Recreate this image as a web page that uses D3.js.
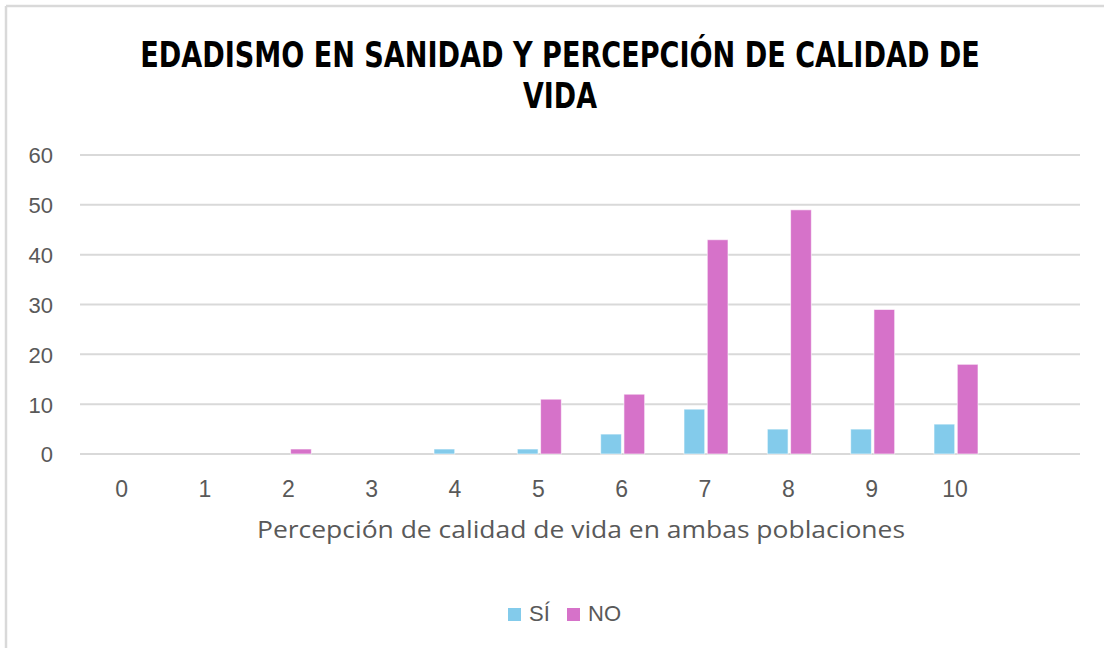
<!DOCTYPE html>
<html>
<head>
<meta charset="utf-8">
<script src="https://cdn.jsdelivr.net/npm/d3@7"></script>
<style>
  html, body { margin: 0; padding: 0; background: #fff; }
  svg { display: block; }
</style>
</head>
<body>
<svg id="chart" width="1104" height="648"></svg>
<script>
// Quality-of-life score categories (last slot is an empty spacer category)
const categories = ["0", "1", "2", "3", "4", "5", "6", "7", "8", "9", "10", ""];
const seriesNames = ["SÍ", "NO"];
const valuesSi = [0, 0, 0, 0, 1, 1, 4, 9, 5, 5, 6, null];
const valuesNo = [0, 0, 1, 0, 0, 11, 12, 43, 49, 29, 18, null];
const yTicks = [0, 10, 20, 30, 40, 50, 60];
const titleLines = ["EDADISMO EN SANIDAD Y PERCEPCIÓN DE CALIDAD DE", "VIDA"];
const xAxisTitle = "Percepción de calidad de vida en ambas poblaciones";

const colors = { "SÍ": "#83cbeb", "NO": "#d672c9" };

const svg = d3.select("#chart");
const W = 1104, H = 648;

// chart frame
svg.append("rect").attr("x", 0).attr("y", 0).attr("width", W).attr("height", H).attr("fill", "#fff");
svg.append("line").attr("x1", 6).attr("x2", W).attr("y1", 6).attr("y2", 6)
  .attr("stroke", "#d9d9d9").attr("stroke-width", 2.5);
svg.append("line").attr("x1", 6).attr("x2", 6).attr("y1", 6).attr("y2", H)
  .attr("stroke", "#d9d9d9").attr("stroke-width", 2.5);

const plot = { left: 80, right: 1080, top: 155, bottom: 454 };

const x = d3.scaleBand().domain(categories).range([plot.left, plot.right]).padding(0);
const y = d3.scaleLinear().domain([0, 60]).range([plot.bottom, plot.top]);
const inner = d3.scaleBand().domain(seriesNames).range([-22, 22]).paddingInner(0.11);

// gridlines
svg.append("g").selectAll("line").data(yTicks).join("line")
  .attr("x1", plot.left).attr("x2", plot.right)
  .attr("y1", d => y(d)).attr("y2", d => y(d))
  .attr("stroke", "#d9d9d9").attr("stroke-width", 2);

const tickFont = "Liberation Sans, Arial, sans-serif";

// y axis labels
const yAxis = d3.axisLeft(y).tickValues(yTicks).tickSize(0).tickPadding(0);
const gy = svg.append("g").attr("transform", `translate(53,0)`).call(yAxis);
gy.select(".domain").remove();
gy.selectAll("text").attr("font-family", tickFont)
  .attr("font-size", 22).attr("fill", "#595959").attr("x", 0).attr("dy", "0.36em");

// x axis labels
const xAxis = d3.axisBottom(x).tickSize(0).tickPadding(0);
const gx = svg.append("g").attr("transform", `translate(0,497)`).call(xAxis);
gx.select(".domain").remove();
gx.selectAll("text").attr("font-family", tickFont)
  .attr("font-size", 23).attr("fill", "#595959").attr("y", 0).attr("dy", 0);

// bars
const rows = categories.map((c, i) => ({ cat: c, "SÍ": valuesSi[i], "NO": valuesNo[i] }));
const groups = svg.append("g").selectAll("g").data(rows).join("g")
  .attr("transform", d => `translate(${x(d.cat) + x.bandwidth() / 2 + 1},0)`);
groups.selectAll("rect")
  .data(d => seriesNames.filter(s => d[s] != null).map(s => ({ s, v: d[s] })))
  .join("rect")
  .attr("x", d => inner(d.s))
  .attr("width", inner.bandwidth())
  .attr("y", d => y(d.v))
  .attr("height", d => Math.max(0, y(0) - y(d.v)))
  .attr("fill", d => colors[d.s])
  .attr("stroke", d => d.v > 0 ? "#ffffff" : "none")
  .attr("stroke-opacity", 0.6)
  .attr("stroke-width", 1);

// title: bold condensed, squeezed horizontally to the target line widths
const titleWidths = [840, 74];
titleLines.forEach((line, i) => {
  const g = svg.append("g").attr("transform", `translate(560,${67 + i * 41})`);
  const t = g.append("text")
    .attr("x", 0).attr("y", 0)
    .attr("text-anchor", "middle")
    .attr("font-family", "Liberation Sans Narrow, DejaVu Sans Condensed, Arial Narrow, sans-serif")
    .attr("font-weight", "bold")
    .attr("font-size", 36)
    .attr("fill", "#000")
    .text(line);
  const natural = t.node().getComputedTextLength();
  const sx = titleWidths[i] / natural;
  g.attr("transform", `translate(560,${67 + i * 41}) scale(${sx},1)`);
});

// x axis title
svg.append("text")
  .attr("x", 581).attr("y", 538)
  .attr("text-anchor", "middle")
  .attr("font-family", "Open Sans, Lato, sans-serif")
  .attr("font-size", 23)
  .attr("fill", "#595959")
  .attr("textLength", 648)
  .attr("lengthAdjust", "spacingAndGlyphs")
  .text(xAxisTitle);

// legend
const legendItems = [
  { s: "SÍ", x: 508 },
  { s: "NO", x: 567 }
];
const lg = svg.append("g");
lg.selectAll("rect").data(legendItems).join("rect")
  .attr("x", d => d.x).attr("y", 608).attr("width", 13).attr("height", 13)
  .attr("fill", d => colors[d.s]);
lg.selectAll("text").data(legendItems).join("text")
  .attr("x", d => d.x + 21).attr("y", 621)
  .attr("font-family", tickFont)
  .attr("font-size", 22)
  .attr("fill", "#595959")
  .text(d => d.s);
</script>
</body>
</html>
